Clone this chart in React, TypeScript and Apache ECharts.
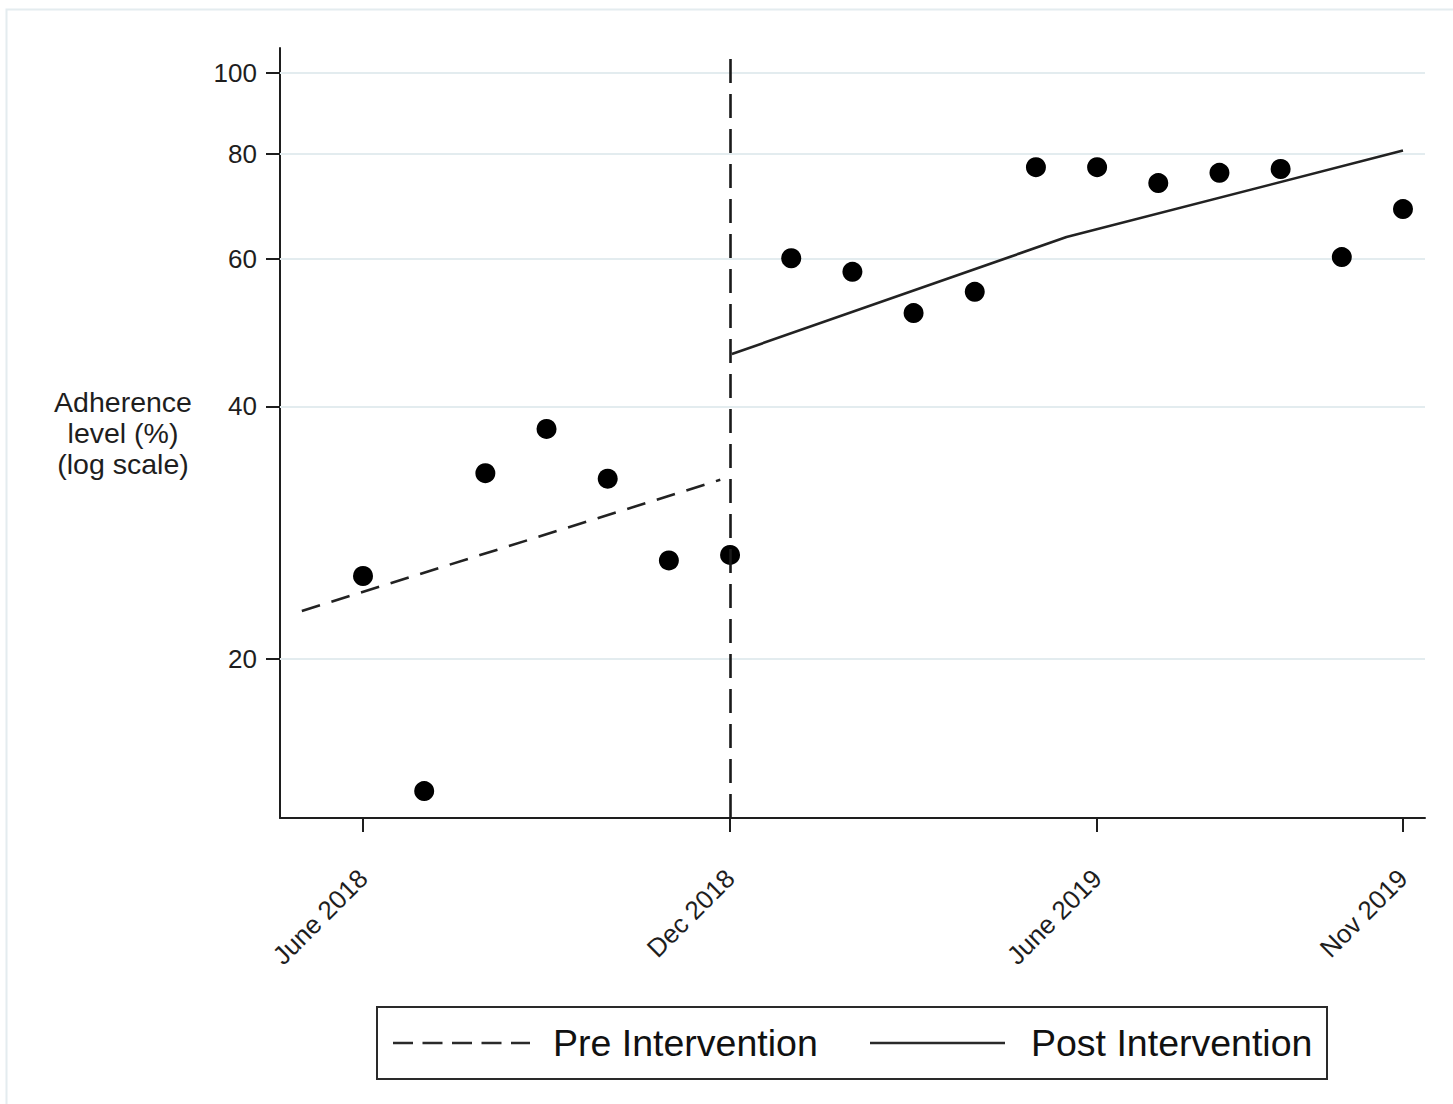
import React, { useEffect, useRef } from 'react';
import * as echarts from 'echarts';

const FONT = '"Liberation Sans", Arial, Helvetica, sans-serif';

// Month index: 0 = June 2018 ... 17 = Nov 2019
const monthIndex = [0, 1, 2, 3, 4, 5, 6, 7, 8, 9, 10, 11, 12, 13, 14, 15, 16, 17];
const adherence = [25.1, 13.9, 33.3, 37.6, 32.8, 26.2, 26.6, 60.1, 57.9, 51.7, 54.8, 77.2, 77.2, 73.9, 76.0, 76.8, 60.3, 68.8];

const preFitX = [-1, 5.84];
const preFitY = [22.8, 32.7];
const postFitX = [6.03, 11.5, 17];
const postFitY = [46.2, 63.7, 80.8];

const interventionMonth = 6;

const xTickMonths = [0, 6, 12, 17];
const xTickLabels = ['June 2018', 'Dec 2018', 'June 2019', 'Nov 2019'];
const yTicks = [20, 40, 60, 80, 100];

const legendLabels = ['Pre Intervention', 'Post Intervention'];

export default function App() {
  const ref = useRef<HTMLDivElement>(null);

  useEffect(() => {
    const chart = echarts.init(ref.current as HTMLDivElement, null, { renderer: 'svg' });
    const axisColor = '#1e1e1e';
    chart.setOption({
      animation: false,
      backgroundColor: '#fff',
      textStyle: { fontFamily: FONT },
      grid: { left: 280, top: 48, right: 28, bottom: 286, containLabel: false, outerBoundsMode: 'none' },
      xAxis: {
        type: 'value',
        min: -1.357,
        max: 17.36,
        axisLine: { show: true, onZero: false, lineStyle: { color: axisColor, width: 2 } },
        axisTick: { show: true, length: 14, customValues: xTickMonths, lineStyle: { color: axisColor, width: 2 } },
        axisLabel: {
          customValues: xTickMonths,
          rotate: 45,
          margin: 56,
          fontSize: 26,
          color: axisColor,
          fontFamily: FONT,
          formatter: (v: number) => {
            const i = xTickMonths.indexOf(Math.round(v));
            return i >= 0 ? xTickLabels[i] : '';
          },
        },
        splitLine: { show: false },
      },
      yAxis: {
        type: 'log',
        logBase: 10,
        min: 12.91,
        max: 107.1,
        axisLine: { show: true, onZero: false, lineStyle: { color: axisColor, width: 2 } },
        axisTick: { show: true, length: 14, customValues: yTicks, lineStyle: { color: axisColor, width: 2 } },
        axisLabel: {
          customValues: yTicks,
          margin: 23,
          fontSize: 26,
          color: axisColor,
          fontFamily: FONT,
          formatter: (v: number) => String(Math.round(v)),
        },
        splitLine: { show: false },
        minorTick: { show: false },
        name: 'Adherence\nlevel (%)\n(log scale)',
        nameLocation: 'middle',
        nameRotate: 0,
        nameGap: 157,
        nameTextStyle: { fontSize: 28.5, lineHeight: 31, align: 'center', color: axisColor, fontFamily: FONT },
      },
      series: [
        {
          name: 'Adherence',
          type: 'scatter',
          z: 3,
          symbolSize: 20,
          itemStyle: { color: '#000', opacity: 1 },
          data: monthIndex.map((m, i) => [m, adherence[i]]),
          markLine: {
            silent: true,
            z: 1,
            symbol: 'none',
            label: { show: false },
            lineStyle: { color: '#e3ecef', width: 2, type: 'solid' },
            data: yTicks.map((v) => ({ yAxis: v })),
          },
        },
        {
          name: legendLabels[0],
          type: 'line',
          z: 2,
          symbol: 'none',
          showSymbol: false,
          lineStyle: { color: '#222', width: 2.6, type: [19, 12] },
          data: preFitX.map((x, i) => [x, preFitY[i]]),
          markLine: {
            silent: true,
            z: 4,
            symbol: 'none',
            label: { show: false },
            lineStyle: { color: '#1a1a1a', width: 2.6, type: [24, 11] },
            data: [{ xAxis: interventionMonth }],
          },
        },
        {
          name: legendLabels[1],
          type: 'line',
          z: 2,
          symbol: 'none',
          showSymbol: false,
          lineStyle: { color: '#222', width: 2.6, type: 'solid' },
          data: postFitX.map((x, i) => [x, postFitY[i]]),
        },
      ],
      graphic: [
        {
          type: 'rect',
          silent: true,
          shape: { x: 6.5, y: 9.5, width: 1480, height: 1120 },
          style: { fill: 'none', stroke: '#e4ecef', lineWidth: 2 },
        },
        {
          type: 'group',
          silent: true,
          children: [
            {
              type: 'rect',
              shape: { x: 377, y: 1007, width: 950, height: 72 },
              style: { fill: '#fff', stroke: '#2a2a2a', lineWidth: 2 },
            },
            {
              type: 'line',
              shape: { x1: 393, y1: 1043, x2: 530, y2: 1043 },
              style: { stroke: '#2a2a2a', lineWidth: 2.6, lineDash: [20, 9.5] },
            },
            {
              type: 'text',
              x: 553,
              y: 1043,
              style: { text: legendLabels[0], fill: '#111', fontSize: 37.5, fontFamily: FONT, align: 'left', verticalAlign: 'middle' },
            },
            {
              type: 'line',
              shape: { x1: 870, y1: 1043, x2: 1005, y2: 1043 },
              style: { stroke: '#2a2a2a', lineWidth: 2.6 },
            },
            {
              type: 'text',
              x: 1031,
              y: 1043,
              style: { text: legendLabels[1], fill: '#111', fontSize: 37.5, fontFamily: FONT, align: 'left', verticalAlign: 'middle' },
            },
          ],
        },
      ],
    });
    return () => chart.dispose();
  }, []);

  return (
    <div
      ref={ref}
      style={{ position: 'absolute', left: 0, top: 0, width: 1453, height: 1104, background: '#fff' }}
    />
  );
}
